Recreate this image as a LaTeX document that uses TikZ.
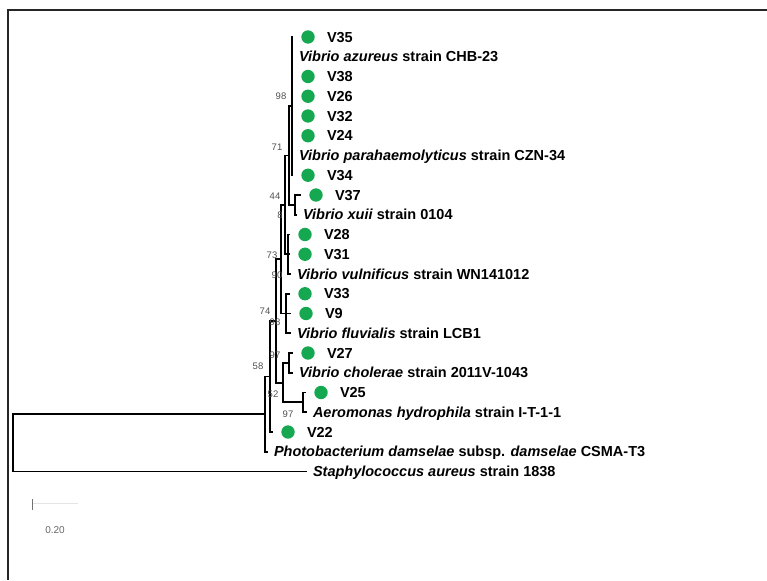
\documentclass[tikz,border=0pt]{standalone}
\usepackage{fontspec}
\setmainfont{Liberation Sans}
\usetikzlibrary{positioning}
\definecolor{isolategreen}{RGB}{22,168,80}
\definecolor{bootgray}{RGB}{80,80,80}

\begin{document}
\begin{tikzpicture}[x=1pt,y=-1pt,
  every node/.style={inner sep=0pt, outer sep=0pt},
  branch/.style={line width=1.9pt},
  frameline/.style={line width=1.8pt, draw=black!85},
  isolate/.style={circle, fill=isolategreen, minimum size=13.4pt},
  leaf/.style={font=\fontsize{14.5}{16}\selectfont\bfseries, text height=10.4pt, text depth=0pt},
  boot/.style={font=\fontsize{9.5}{10}\selectfont, text=bootgray},
  scalelbl/.style={font=\fontsize{10}{11}\selectfont, text=black!60}]
  \useasboundingbox (0,0) rectangle (767,580);
  % frame
  \draw[frameline] (8,580) -- (8,10) -- (767,10);

  % isolates (green dots)
  \foreach \id/\y/\tx in {35/37/293, 38/76.5/293, 26/96.25/293, 32/116/293, 24/135.75/293,
      34/175.25/293, 37/195/301, 28/234.5/290, 31/254.25/290, 33/293.75/290, 9/313.5/291,
      27/353/293, 25/392.5/306, 22/432/273} {
    \coordinate (t\id) at (\tx,\y);
    \node[isolate, right=8.3pt of t\id] (d\id) {};
    \node[leaf, right=12.3pt of d\id] (l\id) {V\id};
  }

  % reference strains
  \coordinate (tazu) at (293,56.75);
  \coordinate (tpar) at (293,155.5);
  \coordinate (txui) at (297,214.75);
  \coordinate (tvul) at (291,274);
  \coordinate (tflu) at (291,333.25);
  \coordinate (tcho) at (293,372.75);
  \coordinate (taer) at (307,412.25);
  \coordinate (tpho) at (268,451.75);
  \coordinate (tsta) at (307,471.5);
  \node[leaf, right=6pt of tazu] (lazu) {\textit{Vibrio azureus} strain CHB-23};
  \node[leaf, right=6pt of tpar] (lpar) {\textit{Vibrio parahaemolyticus} strain CZN-34};
  \node[leaf, right=6pt of txui] (lxui) {\textit{Vibrio xuii} strain 0104};
  \node[leaf, right=6pt of tvul] (lvul) {\textit{Vibrio vulnificus} strain WN141012};
  \node[leaf, right=6pt of tflu] (lflu) {\textit{Vibrio fluvialis} strain LCB1};
  \node[leaf, right=6pt of tcho] (lcho) {\textit{Vibrio cholerae} strain 2011V-1043};
  \node[leaf, right=6pt of taer] (laer) {\textit{Aeromonas hydrophila} strain I-T-1-1};
  \node[leaf, right=6pt of tpho] (lpho) {\textit{Photobacterium damselae} subsp. \textit{damselae} CSMA-T3};
  \node[leaf, right=6pt of tsta] (lsta) {\textit{Staphylococcus aureus} strain 1838};

  % internal nodes
  \coordinate (n98) at (292,106.1);
  \coordinate (n37) at (295,204.9);
  \coordinate (n71) at (289,155.5);
  \coordinate (n28) at (288,254.25);
  \coordinate (n44) at (285,204.9);
  \coordinate (n33) at (286,313.5);
  \coordinate (n73) at (281,259.2);
  \coordinate (n27) at (289,362.9);
  \coordinate (n25) at (303,402.4);
  \coordinate (n52) at (283,382.6);
  \coordinate (n74) at (276,320.9);
  \coordinate (n58) at (270,376.5);
  \coordinate (nout) at (265,414.1);
  \coordinate (root) at (13,442.8);

  % branches
  \foreach \c in {35,azu,38,26,32,24,par,34} \draw[branch] (n98) |- (t\c);
  \draw[branch] (n37) |- (t37);
  \draw[branch] (n37) |- (txui);
  \draw[branch] (n71) |- (n98);
  \draw[branch] (n71) |- (n37);
  \foreach \c in {28,31,vul} \draw[branch] (n28) |- (t\c);
  \draw[branch] (n44) |- (n71);
  \draw[branch] (n44) |- (n28);
  \foreach \c in {33,9,flu} \draw[branch] (n33) |- (t\c);
  \draw[branch] (n73) |- (n44);
  \draw[branch] (n73) |- (n33);
  \draw[branch] (n27) |- (t27);
  \draw[branch] (n27) |- (tcho);
  \draw[branch] (n25) |- (t25);
  \draw[branch] (n25) |- (taer);
  \draw[branch] (n52) |- (n27);
  \draw[branch] (n52) |- (n25);
  \draw[branch] (n74) |- (n73);
  \draw[branch] (n74) |- (n52);
  \draw[branch] (n58) |- (n74);
  \draw[branch] (n58) |- (t22);
  \draw[branch] (nout) |- (n58);
  \draw[branch] (nout) |- (tpho);
  \draw[branch] (root) |- (nout);
  \draw[branch] (root) |- (tsta);

  % bootstrap values
  \node[boot] (b98) at (281,96) {98};
  \node[boot] (b71) at (277,147) {71};
  \node[boot] (b44) at (275,196) {44};
  \node[boot] (b8) at (280,215) {8};
  \node[boot] (b73) at (272,255) {73};
  \node[boot] (b90) at (277,275) {90};
  \node[boot] (b74) at (265,311) {74};
  \node[boot] (b98b) at (275,322) {98};
  \node[boot] (b97) at (275,355) {97};
  \node[boot] (b58) at (258,366) {58};
  \node[boot] (b52) at (273,394) {52};
  \node[boot] (b97b) at (288,414) {97};

  % scale bar
  \coordinate (sb0) at (32,503);
  \coordinate (sb1) at (78,503);
  \draw[black!10, line width=.8pt] (sb0) -- (sb1);
  \draw[black!55, line width=.8pt] (32,499) -- (32,510);
  \node[scalelbl] (sblbl) at (55,530) {0.20};
\end{tikzpicture}
\end{document}
